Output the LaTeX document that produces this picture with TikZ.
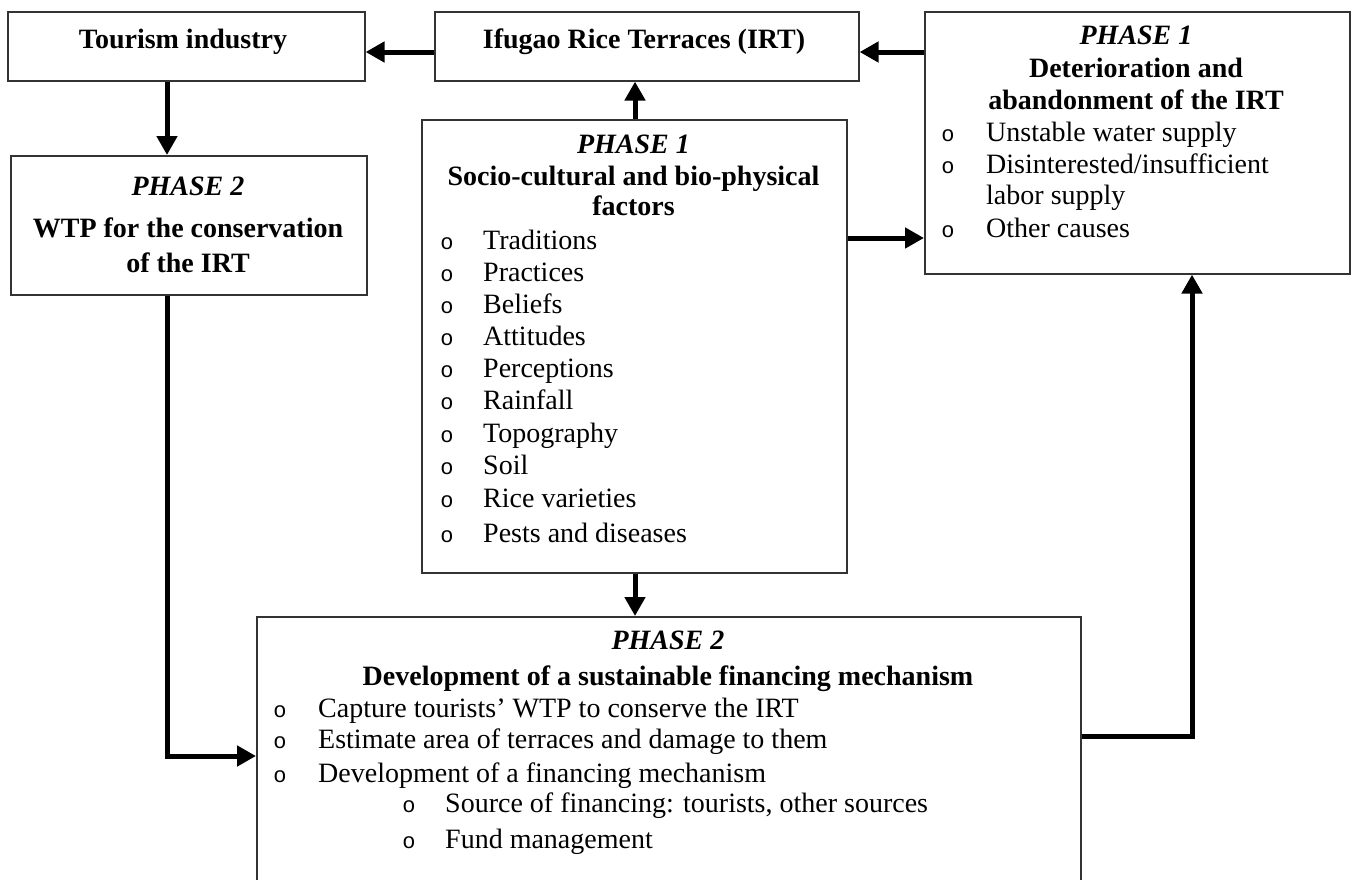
\documentclass[tikz,border=0pt]{standalone}
\usepackage{fontspec}
\setmainfont{Liberation Serif}
\newfontfamily\bulfont{Liberation Mono}
\usetikzlibrary{arrows.meta,calc}
\begin{document}
\begin{tikzpicture}[x=1pt,y=-1pt,
  box/.style={draw=black!80, line width=1.6pt, rectangle, inner sep=0pt, anchor=north west, fill=white},
  conn/.style={line width=5pt, -{Triangle[length=19pt,width=20pt]}},
  txt/.style={inner sep=0pt, anchor=base, font=\fontsize{28}{32}\selectfont},
  hd/.style={txt, font=\fontsize{28}{32}\selectfont\bfseries},
  ph/.style={txt, font=\fontsize{28}{32}\selectfont\bfseries\itshape},
  item/.style={inner sep=0pt, anchor=base west, font=\fontsize{28}{32}\selectfont},
  bul/.style={inner sep=0pt, anchor=base, font=\bulfont\fontsize{22}{22}\selectfont}]
\useasboundingbox (0,0) rectangle (1356,879);
\fill[white] (0,0) rectangle (1356,879);
\clip (0,0) rectangle (1356,879);

% boxes
\node[box, minimum width=357, minimum height=69] (tour) at (7,11) {};
\node[box, minimum width=424, minimum height=69] (irt) at (434,11) {};
\node[box, minimum width=425, minimum height=262] (det) at (924,11) {};
\node[box, minimum width=356, minimum height=139] (wtp) at (10,155) {};
\node[box, minimum width=425, minimum height=453] (soc) at (421,119) {};
\node[box, minimum width=824, minimum height=290] (dev) at (256,616) {};

% connector guides
\coordinate (ax1) at (167,0);
\coordinate (ax2) at (635,0);
\coordinate (ax3) at (1192,0);
\coordinate (ay1) at (0,52);
\coordinate (ay2) at (0,238);
\coordinate (ay3) at (0,756);
\coordinate (ay4) at (0,736);

% texts
\node[hd] (tourt) at (183,48) {Tourism industry};
\node[hd] (irtt) at (644,48) {Ifugao Rice Terraces (IRT)};

\node[ph] (detp) at (1136,44) {PHASE 1};
\node[hd] (deth1) at (1136,77) {Deterioration and};
\node[hd] (deth2) at (1136,109) {abandonment of the IRT};
\foreach \yy/\t [count=\i] in {141/{Unstable water supply}, 173/{Disinterested/insufficient}, 237/{Other causes}}{
  \node[bul] (db\i) at (948,\yy) {o};
  \node[item] (dt\i) at (986,\yy) {\t};
}
\node[item] (dt4) at (986,204) {labor supply};

\node[ph] (wtpp) at (188,195) {PHASE 2};
\node[hd] (wtph1) at (188,237) {WTP for the conservation};
\node[hd] (wtph2) at (188,272) {of the IRT};

\node[ph] (socp) at (633.5,153) {PHASE 1};
\node[hd] (soch1) at (633.5,185) {Socio-cultural and bio-physical};
\node[hd] (soch2) at (633.5,215) {factors};
\foreach \yy/\t [count=\i] in {249/Traditions, 281/Practices, 313/Beliefs, 345/Attitudes, 377/Perceptions, 409/Rainfall, 442/Topography, 474/Soil, 507/Rice varieties, 542/Pests and diseases}{
  \node[bul] (sb\i) at (447,\yy) {o};
  \node[item] (st\i) at (483,\yy) {\t};
}

\node[ph] (devp) at (668,649) {PHASE 2};
\node[hd] (devh) at (668,685) {Development of a sustainable financing mechanism};
\foreach \yy/\t [count=\i] in {717/{Capture tourists’ WTP to conserve the IRT}, 748/{Estimate area of terraces and damage to them}, 782/{Development of a financing mechanism}}{
  \node[bul] (vb\i) at (280,\yy) {o};
  \node[item] (vt\i) at (318,\yy) {\t};
}
\foreach \yy/\t [count=\i] in {812/{Source of financing: tourists, other sources}, 848/{Fund management}}{
  \node[bul] (wb\i) at (409,\yy) {o};
  \node[item] (wt\i) at (445,\yy) {\t};
}

% connectors
\draw[conn] (irt.west |- ay1) -- (tour.east |- ay1);
\draw[conn] (det.west |- ay1) -- (irt.east |- ay1);
\draw[conn] (tour.south -| ax1) -- (wtp.north -| ax1);
\draw[conn] (soc.north -| ax2) -- (irt.south -| ax2);
\draw[conn] (soc.east |- ay2) -- (det.west |- ay2);
\draw[conn] (soc.south -| ax2) -- (dev.north -| ax2);
\draw[conn] (wtp.south -| ax1) |- (dev.west |- ay3);
\draw[conn] (dev.east |- ay4) -| (det.south -| ax3);
\end{tikzpicture}
\end{document}
